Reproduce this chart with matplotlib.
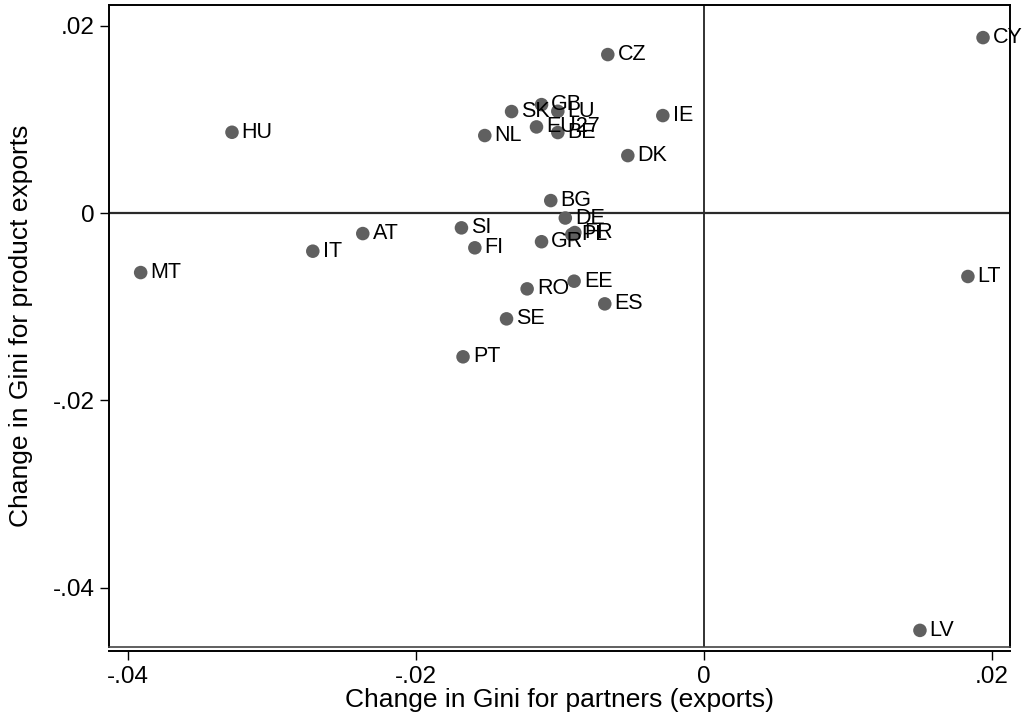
import matplotlib
matplotlib.use("Agg")
import matplotlib.pyplot as plt

countries = ["CY", "CZ", "HU", "GB", "SK", "LU", "EU27", "BE", "NL", "IE", "DK",
             "BG", "DE", "FR", "PL", "SI", "FI", "GR", "AT", "IT", "MT", "LT",
             "EE", "RO", "ES", "SE", "PT", "LV"]
gini_partners = [0.01938, -0.00667, -0.03276, -0.01127, -0.01335, -0.01014, -0.01162,
                 -0.01014, -0.01521, -0.00285, -0.00528, -0.01063, -0.00962, -0.00896,
                 -0.00917, -0.01683, -0.01590, -0.01127, -0.02368, -0.02715, -0.03910,
                 0.01833, -0.00901, -0.01227, -0.00688, -0.01370, -0.01672, 0.01500]
gini_products = [0.01872, 0.01691, 0.00862, 0.01157, 0.01083, 0.01086, 0.00919,
                 0.00859, 0.00827, 0.01040, 0.00613, 0.00133, -0.00053, -0.00208,
                 -0.00229, -0.00158, -0.00371, -0.00306, -0.00219, -0.00407, -0.00635,
                 -0.00677, -0.00727, -0.00809, -0.00969, -0.01129, -0.01534, -0.04453]

x_ticks = [-0.04, -0.02, 0.0, 0.02]
x_ticklabels = ["-.04", "-.02", "0", ".02"]
y_ticks = [-0.04, -0.02, 0.0, 0.02]
y_ticklabels = ["-.04", "-.02", "0", ".02"]

plt.rcParams["font.family"] = ["Liberation Sans", "DejaVu Sans"]

fig = plt.figure(figsize=(10.31, 7.24), dpi=100)
ax = fig.add_axes([0.1057, 0.1064, 0.8739, 0.8867])

ax.set_xlim(-0.0413, 0.02125)
ax.set_ylim(-0.0463, 0.0222)

# reference lines through the origin
ax.axvline(0, color="#222222", lw=1.3, zorder=1)
ax.axhline(0, color="#2a2a2a", lw=1.6, zorder=1)

ax.scatter(gini_partners, gini_products, s=95, color="#606060",
           edgecolors="none", zorder=3)
for name, xv, yv in zip(countries, gini_partners, gini_products):
    ax.annotate(name, (xv, yv), xytext=(7, 0), textcoords="offset points",
                ha="left", va="center", fontsize=15.5, color="black", zorder=4)

ax.set_xticks(x_ticks)
ax.set_xticklabels(x_ticklabels)
ax.set_yticks(y_ticks)
ax.set_yticklabels(y_ticklabels)
ax.tick_params(axis="both", direction="out", length=6.5, width=1.0,
               labelsize=17.5, color="black", pad=4)

for sp in ax.spines.values():
    sp.set_linewidth(1.4)
    sp.set_color("black")
ax.spines["bottom"].set_position(("outward", 3))
ax.plot([0, 1], [0, 0], transform=ax.transAxes, color="#444444", lw=1.2,
        clip_on=False, zorder=5)

ax.set_xlabel("Change in Gini for partners (exports)", fontsize=19, labelpad=0)
ax.set_ylabel("Change in Gini for product exports", fontsize=19, labelpad=14)

fig.savefig("out.png", dpi=100)
